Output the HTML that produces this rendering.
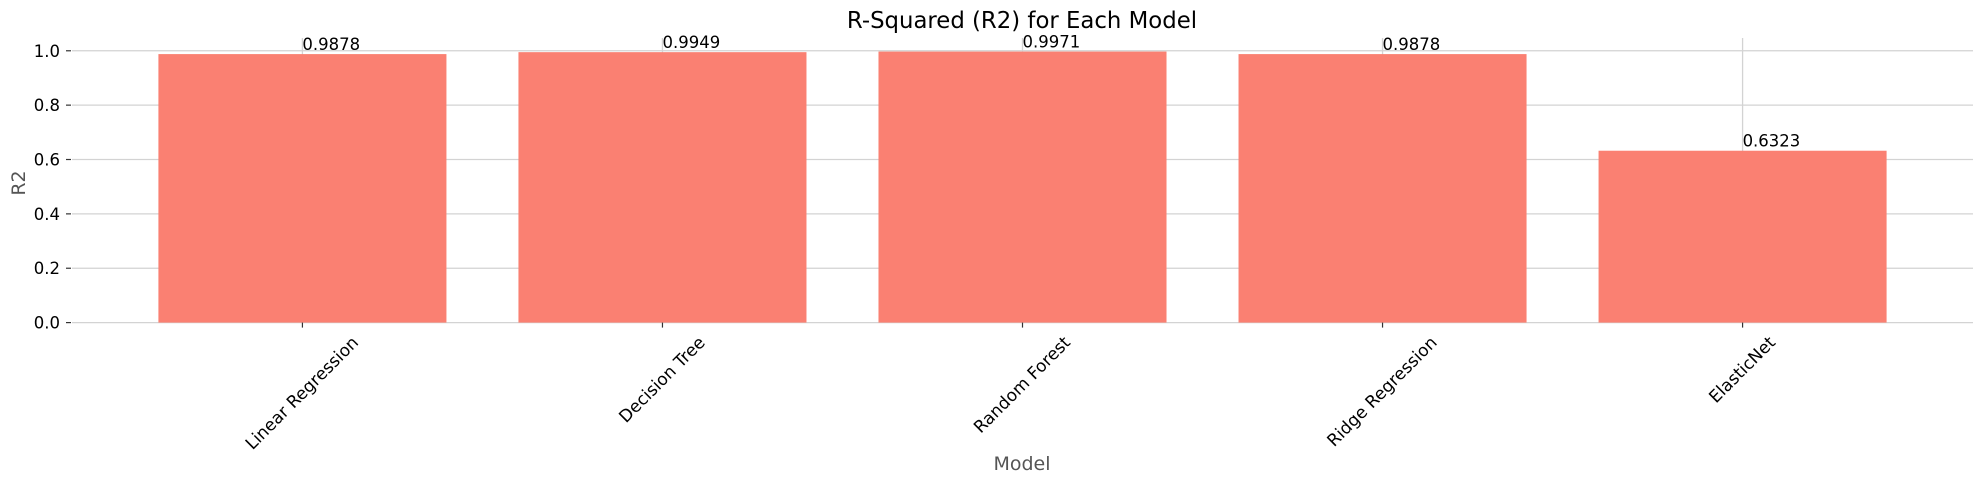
<!DOCTYPE html>
<html><head><meta charset="utf-8"><style>
body{margin:0;background:#fff}
svg{display:block;font-family:"DejaVu Sans","Liberation Sans",sans-serif}
</style></head><body>
<svg id="chart" width="1984" height="484" viewBox="0 0 1984 484" xmlns="http://www.w3.org/2000/svg">
<text x="1022" y="28" text-anchor="middle" font-size="22.8" fill="#000">R-Squared (R2) for Each Model</text>
<text x="0" y="0" transform="translate(25,183) rotate(-90)" text-anchor="middle" font-size="19" fill="#555">R2</text>
<text x="1022" y="470" text-anchor="middle" font-size="19" fill="#555">Model</text>
<g id="grid"></g><g id="bars"></g><g id="axes"></g>
</svg>
<script>
const categories = ["Linear Regression","Decision Tree","Random Forest","Ridge Regression","ElasticNet"];
const values = [0.9878,0.9949,0.9971,0.9878,0.6323];
const valueLabels = ["0.9878","0.9949","0.9971","0.9878","0.6323"];
const yTicks = [0,0.2,0.4,0.6,0.8,1.0];
const yTickLabels = ["0.0","0.2","0.4","0.6","0.8","1.0"];

const NS="http://www.w3.org/2000/svg";
const X0=72,X1=1973,Y0=322.6,YTOP=38;
const xmin=-0.64,xmax=categories.length-1+0.64,ymax=1.047;
const xs=i=>X0+(i-xmin)/(xmax-xmin)*(X1-X0);
const ys=v=>Y0-v/ymax*(Y0-YTOP);
const step=xs(1)-xs(0),bw=0.8*step;
function mk(tag,attrs,parent){const e=document.createElementNS(NS,tag);for(const k in attrs)e.setAttribute(k,attrs[k]);parent.appendChild(e);return e;}
const grid=document.getElementById('grid'),bars=document.getElementById('bars'),axes=document.getElementById('axes');
yTicks.forEach((t,i)=>{
  const y=ys(t);
  const g=mk('line',{x1:X0,x2:X1,y1:y,y2:y,stroke:'#d3d3d3','stroke-width':1.3},grid);
  
  
  const tm=mk('line',{x1:66,x2:71,y1:y,y2:y,stroke:'#333','stroke-width':1.2},axes);
  
  
  const tl=mk('text',{x:60,y:y+6,'text-anchor':'end','font-size':16.5,fill:'#000'},axes);
  tl.textContent=yTickLabels[i];
  
  
});
categories.forEach((c,i)=>{
  const cx=xs(i);
  const vg=mk('line',{x1:cx,x2:cx,y1:YTOP,y2:Y0,stroke:'#d3d3d3','stroke-width':1.3},grid);
  
  
  const r=mk('rect',{x:cx-bw/2,y:ys(values[i]),width:bw,height:Y0-ys(values[i]),fill:'#FA8072'},bars);
  
  
  const vl=mk('text',{x:cx,y:ys(values[i])-4,'font-size':16.5,fill:'#000'},axes);
  vl.textContent=valueLabels[i];
  
  
  const tm=mk('line',{x1:cx,x2:cx,y1:Y0,y2:Y0+5,stroke:'#333','stroke-width':1.2},axes);
  
  
  const xl=mk('text',{x:0,y:0,'text-anchor':'middle','dominant-baseline':'central','font-size':17,fill:'#000'},axes);
  xl.textContent=c;
  
  
  const L=xl.getComputedTextLength();
  const h=(L+17)*0.7071;
  xl.setAttribute('transform','translate('+cx+','+(334+h/2)+') rotate(-45)');
});
</script>
</body></html>
